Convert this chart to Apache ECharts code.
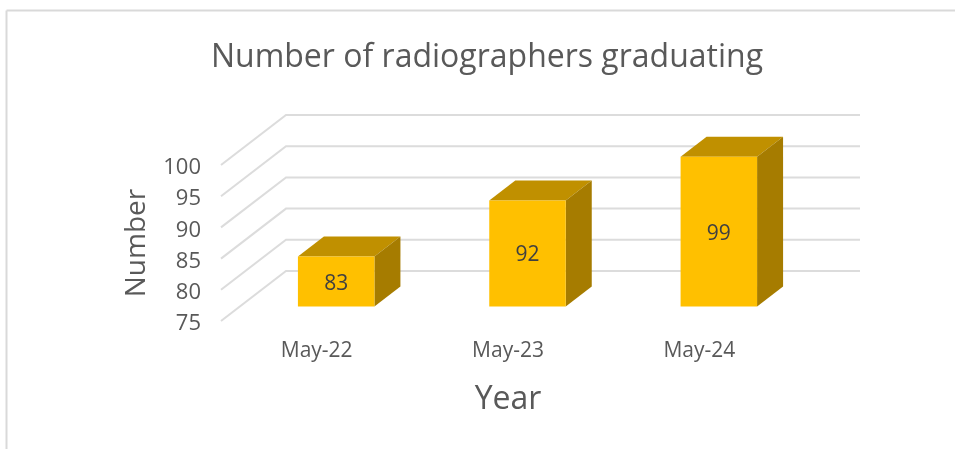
<!DOCTYPE html>
<html>
<head>
<meta charset="utf-8">
<title>Number of radiographers graduating</title>
<script src="https://cdn.jsdelivr.net/npm/echarts@6/dist/echarts.min.js"></script>
<style>
html, body { margin: 0; padding: 0; background: #fff; }
#chart { width: 955px; height: 449px; }
</style>
</head>
<body>
<div id="chart"></div>
<script>
const categories = ['May-22', 'May-23', 'May-24']
const graduates = [83, 92, 99]
const wallTicks = [75, 80, 85, 90, 95, 100]

// fake 3D: how far the back wall and the bars sit from the front plane, in px
const wallDepth = [65, -50]
const barShift = [19.5, -14.5]
const barDepth = [26, -20]
const barWidth = 76.5

const fontFamily = '"Open Sans", "Noto Sans", sans-serif'
const chart = echarts.init(document.getElementById('chart'))

function renderWall(params, api) {
  const start = api.coord([0, api.value(0)])
  const left = params.coordSys.x
  const right = left + params.coordSys.width
  const y = start[1]
  const backY = y + wallDepth[1]
  const backX = left + wallDepth[0]
  return {
    type: 'polyline',
    shape: { points: [[left, y], [backX, backY], [right + wallDepth[0], backY]] },
    style: { fill: 'none', stroke: '#dcdcdc', lineWidth: 2 }
  }
}

function renderBar(params, api) {
  const top = api.coord([api.value(0), api.value(1)])
  const base = api.coord([api.value(0), 75])
  const x0 = top[0] - barWidth / 2 + barShift[0]
  const x1 = x0 + barWidth
  const y0 = top[1] + barShift[1]
  const y1 = base[1] + barShift[1]
  const dx = barDepth[0]
  const dy = barDepth[1]
  return {
    type: 'group',
    children: [
      {
        type: 'polygon',
        shape: { points: [[x0, y0], [x1, y0], [x1 + dx, y0 + dy], [x0 + dx, y0 + dy]] },
        style: { fill: '#c09000' }
      },
      {
        type: 'polygon',
        shape: { points: [[x1, y0], [x1 + dx, y0 + dy], [x1 + dx, y1 + dy], [x1, y1]] },
        style: { fill: '#a67c00' }
      },
      {
        type: 'rect',
        shape: { x: x0, y: y0, width: barWidth, height: y1 - y0 },
        style: { fill: '#ffc000' }
      },
      {
        type: 'text',
        x: (x0 + x1) / 2,
        y: (y0 + y1) / 2 + 2,
        style: {
          text: String(api.value(1)),
          fill: '#404040',
          font: '21px ' + fontFamily,
          align: 'center',
          verticalAlign: 'middle'
        }
      }
    ]
  }
}

chart.setOption({
  animation: false,
  backgroundColor: '#fff',
  title: {
    text: 'Number of radiographers graduating',
    left: 482,
    top: 37,
    textAlign: 'center',
    textStyle: { color: '#595959', fontSize: 32, fontWeight: 'normal', fontFamily: fontFamily }
  },
  grid: { left: 221, top: 165, width: 574, height: 156 },
  xAxis: {
    type: 'category',
    data: categories,
    name: 'Year',
    nameLocation: 'middle',
    nameGap: 63,
    nameTextStyle: { color: '#595959', fontSize: 32, fontFamily: fontFamily },
    axisLine: { show: false },
    axisTick: { show: false },
    axisLabel: { color: '#595959', fontSize: 21, margin: 20, fontFamily: fontFamily }
  },
  yAxis: {
    type: 'value',
    min: 75,
    max: 100,
    interval: 5,
    name: 'Number',
    nameLocation: 'middle',
    nameGap: 70,
    nameTextStyle: { color: '#595959', fontSize: 28, fontFamily: fontFamily },
    splitLine: { show: false },
    axisLine: { show: false },
    axisTick: { show: false },
    // labels sit a little below their tick in the reference
    axisLabel: { color: '#595959', fontSize: 22, margin: 20, verticalAlign: 'top', lineHeight: 6, fontFamily: fontFamily }
  },
  series: [
    {
      type: 'custom',
      renderItem: renderWall,
      data: wallTicks.map(v => [v]),
      encode: { y: 0 },
      silent: true,
      z: 1
    },
    {
      type: 'custom',
      renderItem: renderBar,
      data: graduates.map((v, i) => [i, v]),
      encode: { x: 0, y: 1 },
      z: 2
    }
  ],
  graphic: [
    // chart frame, only the top and left edges are in view
    { type: 'line', shape: { x1: 6.5, y1: 10.5, x2: 955, y2: 10.5 }, style: { stroke: '#d9d9d9', lineWidth: 2 } },
    { type: 'line', shape: { x1: 6.5, y1: 10.5, x2: 6.5, y2: 449 }, style: { stroke: '#d9d9d9', lineWidth: 2 } }
  ]
})
</script>
</body>
</html>
